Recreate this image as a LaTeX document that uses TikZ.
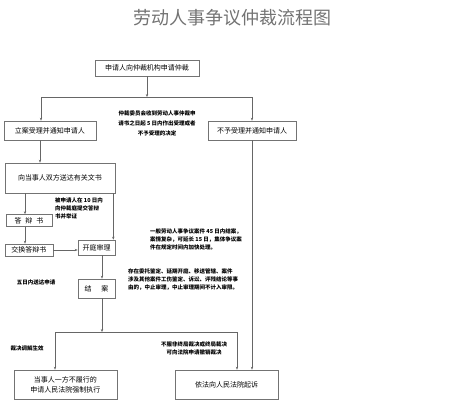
\documentclass[tikz,border=0pt]{standalone}
\usepackage{fontspec}
\setmainfont{Noto Sans CJK SC}
\usetikzlibrary{arrows.meta,positioning}

\begin{document}
\begin{tikzpicture}[x=1pt, y=-1pt,
    B/.style = {rectangle, draw=black!55, line width=0.6pt,% boxes of the flow
                inner sep=0pt, align=center,
                font=\fontsize{7}{10}\selectfont},
    N/.style = {inner sep=0pt, align=left,% small notes beside the flow
                font=\fontsize{5.5}{8}\selectfont\bfseries},
    L/.style = {draw=black!60, line width=0.6pt},
    A/.style = {L, -{Stealth[length=3pt,width=2.4pt]}},
                        ]
\useasboundingbox (0,0) rectangle (472,400);
\node[font=\fontsize{18}{20}\selectfont, text=black!55] (title) at (232,18) {劳动人事争议仲裁流程图};
\node[B, minimum width=104pt, minimum height=16pt] (apply)   at (147,68)    {申请人向仲裁机构申请仲裁};
\node[B, minimum width=92pt,  minimum height=19pt] (accept)  at (50,130.5)  {立案受理并通知申请人};
\node[B, minimum width=88pt,  minimum height=19pt] (reject)  at (252,130.5) {不予受理并通知申请人};
\node[N, align=center, font=\fontsize{5.5}{10}\selectfont\bfseries] (decide) at (157,123)
     {仲裁委员会收到劳动人事仲裁申\\请书之日起 5 日内作出受理或者\\不予受理的决定};
\node[B, minimum width=110pt, minimum height=30pt] (serve)   at (60,178)    {向当事人双方送达有关文书};
\node[B, minimum width=46pt,  minimum height=12pt] (defend)  at (29,220.5)  {答\hspace{4pt}辩\hspace{4pt}书};
\node[N, anchor=north west] (term) at (55,198) {被申请人在 10 日内\\向仲裁庭提交答辩\\书并举证};
\node[B, minimum width=48pt,  minimum height=12pt] (swap)    at (29,250)    {交换答辩书};
\node[B, minimum width=37pt,  minimum height=15pt] (hear)    at (96.5,247.5) {开庭审理};
\node[B, minimum width=37pt,  minimum height=19pt] (close)   at (96.5,288.5) {结\hspace{10pt}案};
\node[N, anchor=north west] (limit) at (150,229)
     {一般劳动人事争议案件 45 日内结案，\\案情复杂，可延长 15 日，集体争议案\\件在规定时间内加快处理。};
\node[N, anchor=north west] (pause) at (128,269)
     {存在委托鉴定、延期开庭、移送管辖、案件\\涉及其他案件工伤鉴定、诉讼、评残结论等事\\由的，中止审理，中止审理期间不计入审限。};
\node[N] (deliver) at (36,282) {五日内送达申请};
\node[N] (valid)   at (27,348) {裁决调解生效};
\node[N, align=center] (revoke) at (194,348) {不服非终局裁决或终局裁决\\可向法院申请撤销裁决};
\node[B, minimum width=103pt, minimum height=29pt] (enforce) at (65.5,384.5) {当事人一方不履行的\\申请人民法院强制执行};
\node[B, minimum width=103pt, minimum height=29pt] (sue)     at (226.5,384.5) {依法向人民法院起诉};
% connectors
\coordinate (split) at (147,97);
\coordinate (sl) at (41,97);
\coordinate (sr) at (252,97);
\draw[A] (apply.south) -- (split);
\draw[L] (sl) -- (sr);
\draw[A] (sl) -- (sl |- accept.north);
\draw[A] (sr) -- (reject.north);
\draw[A] ([xshift=-10pt]accept.south) -- ([xshift=-10pt]accept.south |- serve.north);
\draw[A] ([xshift=-4pt]defend.north |- serve.south) -- ([xshift=-4pt]defend.north);
\draw[A] ([xshift=-4pt]defend.south) -- ([xshift=-4pt]swap.north);
\draw[A] (swap.east) -- (swap.east -| hear.west);
\draw[A] ([xshift=-2pt]serve.south east) -- ([xshift=-2pt]serve.south east |- hear.north);
\draw[A] ([xshift=5.5pt]hear.south) -- ([xshift=5.5pt]close.north);
\coordinate (ml) at (55,332);
\coordinate (mr) at (237,332);
\draw[A] ([xshift=5.5pt]close.south) -- ([xshift=5.5pt]close.south |- ml);
\draw[L] (ml) -- (mr);
\draw[A] (ml) -- (ml |- enforce.north);
\draw[A] (mr) -- (mr |- sue.north);
\draw[A] (reject.south) -- (reject.south |- sue.north);
\end{tikzpicture}
\end{document}
